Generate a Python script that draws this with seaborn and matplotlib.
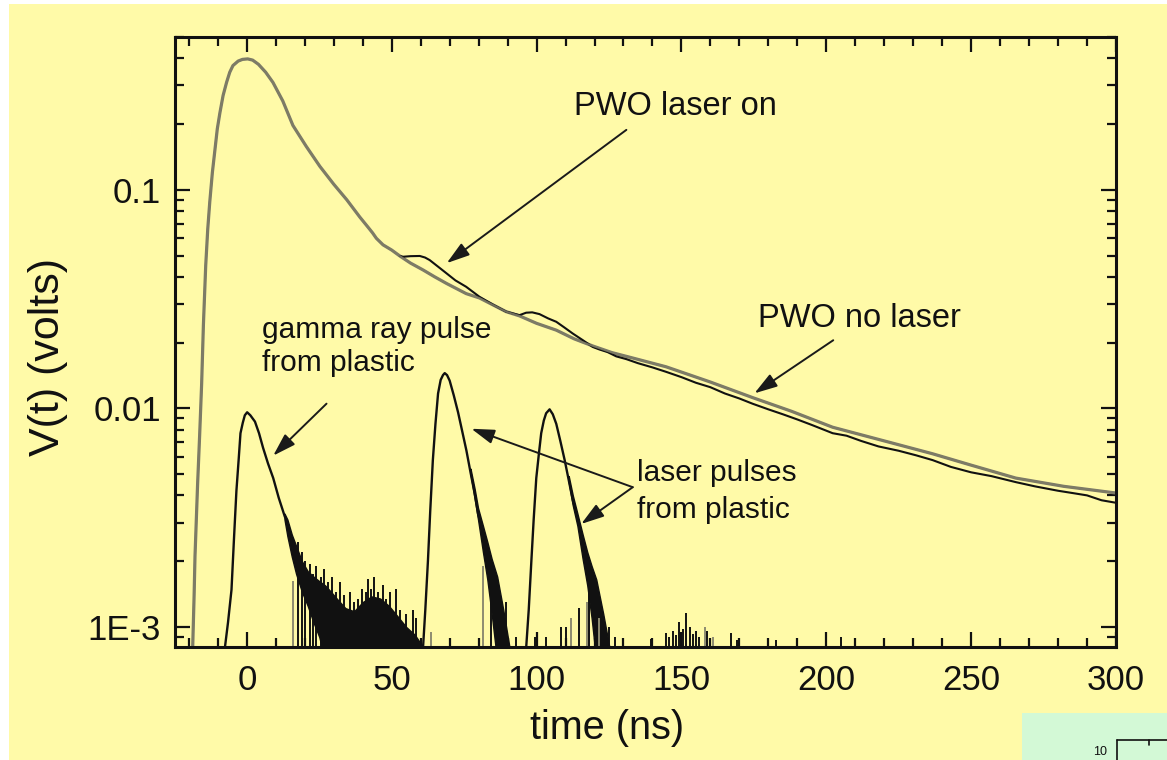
import matplotlib
matplotlib.use("Agg")
import matplotlib.pyplot as plt
from matplotlib.patches import Rectangle
from matplotlib.lines import Line2D
from matplotlib.ticker import FixedLocator, FixedFormatter, MultipleLocator, LogLocator, NullFormatter
import numpy as np
import pandas as pd
import seaborn as sns

# ---------------- data (time in ns, signal in volts) ----------------
# PWO crystal, no laser
pwo_off_t = [-18.7, -18.2, -17.9, -17.0, -16.3, -15.6, -15.0, -14.2, -13.5, -12.8, -11.9, -11.0,
             -10.2, -9.3, -8.2, -7.0, -5.9, -4.8, -3.0, -1.5, 0.3, 2.0, 4.0, 6.5, 9.0, 12.4,
             15.9, 20.5, 25.2, 30.0, 34.5, 39.0, 42.0, 43.4, 44.7, 47.0, 50.0, 52.8, 56.5,
             60.8, 64.8, 68.9, 75.7, 80.3, 89.5, 94.1, 100.0, 106.8, 113.0, 119.4, 126.0,
             133.2, 144.7, 160.0, 174.6, 188.0, 202.2, 220.0, 236.7, 250.0, 265.4, 282.0, 300.0]
pwo_off_v = [8.0e-4, 1.4e-3, 2.1e-3, 4.5e-3, 7.5e-3, 0.013, 0.024, 0.045, 0.066, 0.088, 0.12, 0.153,
             0.19, 0.225, 0.27, 0.31, 0.345, 0.37, 0.388, 0.395, 0.397, 0.392, 0.375, 0.345, 0.31, 0.255,
             0.197, 0.158, 0.128, 0.106, 0.090, 0.075, 0.067, 0.0635, 0.060, 0.056, 0.053, 0.0498, 0.0462,
             0.0430, 0.0400, 0.0373, 0.0335, 0.0320, 0.0277, 0.0265, 0.0245, 0.0228, 0.0208, 0.0193, 0.0180,
             0.0170, 0.0155, 0.0132, 0.0112, 0.0097, 0.0082, 0.0071, 0.0062, 0.0055, 0.0048, 0.0044, 0.0041]

# PWO crystal, laser on (identical to the above before 52.8 ns)
pwo_on_t = [52.8, 53.9, 56.5, 59.7, 61.5, 63.1, 66.0, 68.9, 72.0, 75.7, 80.3, 85.0, 89.5, 94.1,
            96.4, 98.5, 101.0, 104.0, 106.8, 109.5, 112.5, 116.0, 119.4, 121.7, 124.5, 127.5, 131.0,
            135.0, 140.0, 144.7, 150.0, 155.0, 160.0, 165.0, 170.0, 174.6, 180.0, 185.0, 190.0,
            195.0, 202.2, 207.0, 212.0, 218.0, 225.0, 231.0, 236.7, 243.0, 250.0, 257.0, 265.4,
            272.0, 280.0, 285.0, 290.0, 295.0, 300.0]
pwo_on_v = [0.0498, 0.0494, 0.0497, 0.0498, 0.0490, 0.0477, 0.0445, 0.0415, 0.0385, 0.0360, 0.0324,
            0.0298, 0.0277, 0.0267, 0.0274, 0.0275, 0.0270, 0.0258, 0.0249, 0.0235, 0.0220, 0.0205,
            0.0191, 0.0186, 0.0181, 0.0173, 0.0168, 0.0161, 0.0154, 0.0147, 0.0139, 0.0131, 0.0125,
            0.0117, 0.0111, 0.0105, 0.0099, 0.0094, 0.0089, 0.0084, 0.0077, 0.0075, 0.0071, 0.0067,
            0.0064, 0.0061, 0.0058, 0.0054, 0.0051, 0.0049, 0.0046, 0.0044, 0.0042, 0.0041, 0.0040,
            0.0038, 0.0037]

# plastic scintillator: gamma-ray pulse
gamma_t = [-7.6, -6.5, -5.3, -4.4, -3.6, -2.8, -2.2, -1.4, -0.7, 0.1, 1.2, 2.8, 4.2, 5.6, 7.3,
           9.1, 11.0, 13.1, 14.0]
gamma_v = [8.0e-4, 1.05e-3, 1.48e-3, 2.6e-3, 4.2e-3, 5.9e-3, 7.7e-3, 8.6e-3, 9.3e-3, 9.6e-3,
           9.3e-3, 8.7e-3, 7.7e-3, 6.6e-3, 5.6e-3, 4.8e-3, 3.9e-3, 3.2e-3, 3.0e-3]
gamma_band_t = [13.0, 14.0, 15.5, 17.0, 19.0, 21.0, 23.0, 25.0, 27.0, 29.0, 31.0, 34.0, 37.0,
                40.0, 43.0, 46.0, 49.0, 52.0, 55.0, 58.0, 60.5]
gamma_band_hi = [3.3e-3, 3.1e-3, 2.65e-3, 2.35e-3, 2.0e-3, 1.8e-3, 1.7e-3, 1.62e-3, 1.55e-3, 1.45e-3,
                 1.35e-3, 1.22e-3, 1.18e-3, 1.3e-3, 1.38e-3, 1.35e-3, 1.25e-3, 1.12e-3, 1.0e-3, 9.2e-4, 8.2e-4]
gamma_band_lo = [3.1e-3, 2.6e-3, 2.1e-3, 1.75e-3, 1.45e-3, 1.25e-3, 1.05e-3, 9.0e-4, 7.0e-4, 7.0e-4,
                 7.0e-4, 7.0e-4, 7.0e-4, 7.0e-4, 7.0e-4, 7.0e-4, 7.0e-4, 7.0e-4, 7.0e-4, 7.0e-4, 7.0e-4]

# plastic scintillator: first laser pulse
laser1_t = [60.8, 61.6, 62.5, 63.3, 64.2, 65.1, 66.0, 66.9, 67.7, 68.3, 69.1, 70.0, 71.4, 72.9,
            74.3, 75.8, 77.2, 78.6, 79.8, 80.9]
laser1_v = [8.0e-4, 1.2e-3, 2.0e-3, 3.4e-3, 5.8e-3, 8.5e-3, 1.17e-2, 1.35e-2, 1.42e-2, 1.45e-2,
            1.42e-2, 1.34e-2, 1.15e-2, 9.6e-3, 7.9e-3, 6.4e-3, 5.1e-3, 4.1e-3, 3.3e-3, 2.9e-3]
laser1_band_t = [77.2, 78.6, 79.8, 81.5, 83.0, 84.5, 86.4, 88.5, 90.7]
laser1_band_hi = [5.3e-3, 4.3e-3, 3.5e-3, 2.9e-3, 2.45e-3, 2.05e-3, 1.7e-3, 1.2e-3, 8.0e-4]
laser1_band_lo = [5.0e-3, 3.9e-3, 3.1e-3, 2.2e-3, 1.65e-3, 1.15e-3, 7.0e-4, 7.0e-4, 7.0e-4]

# plastic scintillator: second laser pulse
laser2_t = [96.4, 97.3, 98.2, 99.0, 99.9, 100.8, 101.6, 102.5, 103.3, 104.5, 105.6, 106.8, 108.2,
            109.7, 111.1, 112.5, 114.0, 115.4]
laser2_v = [8.0e-4, 1.2e-3, 2.0e-3, 3.1e-3, 4.8e-3, 6.2e-3, 7.7e-3, 8.8e-3, 9.5e-3, 9.9e-3,
            9.4e-3, 8.5e-3, 7.1e-3, 5.8e-3, 4.7e-3, 3.8e-3, 3.2e-3, 2.7e-3]
laser2_band_t = [111.1, 112.5, 114.1, 115.9, 117.5, 119.0, 120.6, 123.0, 125.2]
laser2_band_hi = [4.9e-3, 4.0e-3, 3.3e-3, 2.65e-3, 2.2e-3, 1.9e-3, 1.65e-3, 1.15e-3, 8.0e-4]
laser2_band_lo = [4.6e-3, 3.6e-3, 2.9e-3, 2.05e-3, 1.55e-3, 1.1e-3, 7.0e-4, 7.0e-4, 7.0e-4]

# noise spikes rising out of the baseline
spike_t = [17.5, 19.0, 20.2, 21.7, 23.0, 24.0, 25.5, 26.8, 28.0, 29.5, 30.6, 32.0, 33.4, 35.5,
           37.0, 38.5, 39.8, 41.0, 41.8, 43.0, 44.0, 45.3, 46.9, 48.2, 49.5, 51.6, 53.0, 55.0,
           57.4, 58.5, 84.3, 87.0, 89.5, 93.0, 99.6, 103.1, 108.5, 110.0, 114.8, 118.2, 121.8,
           125.0, 127.0, 129.8, 139.6, 144.7, 145.8, 147.0, 148.2, 149.3, 150.5, 151.6, 153.0,
           154.0, 155.1, 156.2, 159.0, 167.1, 169.3, 179.8, 182.6, 205.0]
spike_v = [2.45e-3, 2.2e-3, 2.0e-3, 1.95e-3, 1.75e-3, 1.9e-3, 1.7e-3, 1.85e-3, 1.6e-3, 1.7e-3,
           1.45e-3, 1.6e-3, 1.4e-3, 1.45e-3, 1.3e-3, 1.35e-3, 1.5e-3, 1.45e-3, 1.65e-3, 1.5e-3,
           1.7e-3, 1.45e-3, 1.55e-3, 1.35e-3, 1.45e-3, 1.5e-3, 1.2e-3, 1.15e-3, 1.2e-3, 1.1e-3,
           2.0e-3, 1.45e-3, 1.3e-3, 9.0e-4, 9.0e-4, 9.0e-4, 1.0e-3, 1.0e-3, 1.22e-3, 1.9e-3,
           1.35e-3, 1.0e-3, 9.0e-4, 8.7e-4, 8.8e-4, 9.4e-4, 9.0e-4, 9.6e-4, 9.2e-4, 1.05e-3,
           9.8e-4, 1.16e-3, 1.0e-3, 9.3e-4, 9.6e-4, 9.0e-4, 9.6e-4, 9.4e-4, 8.7e-4, 8.7e-4,
           8.7e-4, 9.0e-4]
faint_spike_t = [16.0, 63.7, 81.5, 112.0, 117.5, 121.5, 158.0, 161.0]
faint_spike_v = [1.63e-3, 9.5e-4, 1.9e-3, 1.1e-3, 1.3e-3, 1.1e-3, 1.0e-3, 9.0e-4]

x_major = [0, 50, 100, 150, 200, 250, 300]
y_major = [1e-3, 1e-2, 1e-1]
y_major_labels = ["1E-3", "0.01", "0.1"]

# ---------------- style ----------------
sns.set_theme(style="ticks")
plt.rcParams["font.family"] = ["Liberation Sans", "DejaVu Sans"]

BG = "#fffaa8"
GRAY = "#7d7b66"
INK = "#111111"
FLOOR = 7.0e-4

fig = plt.figure(figsize=(11.67, 7.6), dpi=100)
fig.patch.set_facecolor("white")
fig.add_artist(Rectangle((9 / 1167, 0), 1, 756 / 760, transform=fig.transFigure,
                         facecolor=BG, edgecolor="none", zorder=-10))

ax = fig.add_axes([175 / 1167, 1 - 647 / 760, (1116 - 175) / 1167, (647 - 37) / 760])
ax.set_facecolor(BG)
ax.set_yscale("log")

# PWO traces
sns.lineplot(x=pwo_off_t, y=pwo_off_v, ax=ax, color=GRAY, lw=2.3, sort=False, estimator=None)
sns.lineplot(x=pwo_on_t, y=pwo_on_v, ax=ax, color=INK, lw=1.5, sort=False, estimator=None)
sns.lineplot(x=pwo_off_t, y=pwo_off_v, ax=ax, color=GRAY, lw=1.3, alpha=0.9, sort=False, estimator=None)

# plastic pulses: clean part as lines, noisy tails as filled envelopes
for t, v in [(gamma_t, gamma_v), (laser1_t, laser1_v), (laser2_t, laser2_v)]:
    sns.lineplot(x=t, y=v, ax=ax, color=INK, lw=1.7, sort=False, estimator=None)
for t, hi, lo in [(gamma_band_t, gamma_band_hi, gamma_band_lo),
                  (laser1_band_t, laser1_band_hi, laser1_band_lo),
                  (laser2_band_t, laser2_band_hi, laser2_band_lo)]:
    ax.fill_between(t, lo, hi, color=INK, lw=1.0, edgecolor=INK)
ax.vlines(spike_t, FLOOR, spike_v, colors=INK, lw=1.4)
ax.vlines(faint_spike_t, FLOOR, faint_spike_v, colors="#8d8b70", lw=1.4)

# ---------------- axes ----------------
ax.set_xlim(-24.8, 300)
ax.set_ylim(8.1e-4, 0.5)
ax.xaxis.set_major_locator(FixedLocator(x_major))
ax.xaxis.set_minor_locator(MultipleLocator(10))
ax.yaxis.set_major_locator(FixedLocator(y_major))
ax.yaxis.set_major_formatter(FixedFormatter(y_major_labels))
ax.yaxis.set_minor_locator(LogLocator(base=10, subs=np.arange(2, 10)))
ax.yaxis.set_minor_formatter(NullFormatter())

for s in ax.spines.values():
    s.set_linewidth(2.2)
    s.set_color(INK)
ax.tick_params(which="both", direction="in", top=True, right=True, colors=INK)
ax.tick_params(which="major", length=11, width=1.6, labelsize=25, pad=12)
ax.tick_params(axis="y", which="major", pad=10)
ax.tick_params(which="minor", length=6.5, width=1.6)

ax.set_xlabel("time (ns)", fontsize=28.5, color=INK)
ax.set_ylabel("V(t) (volts)", fontsize=31, color=INK)
ax.xaxis.label.set_va("center")
ax.yaxis.label.set_va("center")
ax.xaxis.set_label_coords(0.459, -0.133)
ax.yaxis.set_label_coords(-0.135, 0.475)

# ---------------- annotations ----------------
arrow = dict(arrowstyle="-|>,head_length=0.7,head_width=0.22", color="#1a1a1a", lw=1.4,
             shrinkA=0, shrinkB=0, mutation_scale=20)

ax.text(147.9, 0.240, "PWO laser on", fontsize=23.5, ha="center", va="center", color=INK)
ax.annotate("", xy=(69.0, 0.0462), xytext=(131.0, 0.188), arrowprops=arrow)

ax.text(211.4, 0.0259, "PWO no laser", fontsize=23.5, ha="center", va="center", color=INK)
ax.annotate("", xy=(175.2, 0.01172), xytext=(202.4, 0.0205), arrowprops=arrow)

ax.text(5.2, 0.0192, "gamma ray pulse\nfrom plastic", fontsize=21.5, ha="left", va="center",
        color=INK, linespacing=1.2)
ax.annotate("", xy=(9.1, 0.00608), xytext=(27.5, 0.01051), arrowprops=arrow)

ax.text(134.5, 0.00418, "laser pulses\nfrom plastic", fontsize=21.5, ha="left", va="center",
        color=INK, linespacing=1.42)
ax.annotate("", xy=(77.5, 0.00807), xytext=(133.2, 0.00436), arrowprops=arrow)
ax.annotate("", xy=(115.4, 0.00296), xytext=(133.2, 0.00436), arrowprops=arrow)

# neighbouring panel peeking in at the lower right corner
fig.add_artist(Rectangle((1022 / 1167, 0), 1, 47 / 760, transform=fig.transFigure,
                         facecolor="#d3f9d6", edgecolor="none", zorder=5))
fig.add_artist(Line2D([1117 / 1167, 1], [1 - 740 / 760] * 2, transform=fig.transFigure,
                      color=INK, lw=1.2, zorder=6))
fig.add_artist(Line2D([1117 / 1167] * 2, [0, 1 - 740 / 760], transform=fig.transFigure,
                      color=INK, lw=1.2, zorder=6))
fig.add_artist(Line2D([1149 / 1167] * 2, [1 - 745 / 760, 1 - 740 / 760], transform=fig.transFigure,
                      color=INK, lw=1.2, zorder=6))
fig.text(1100 / 1167, 1 - 758 / 760, "10", fontsize=9, ha="center", va="bottom", color=INK, zorder=6)

fig.savefig("out.png", dpi=100, facecolor=fig.get_facecolor())
